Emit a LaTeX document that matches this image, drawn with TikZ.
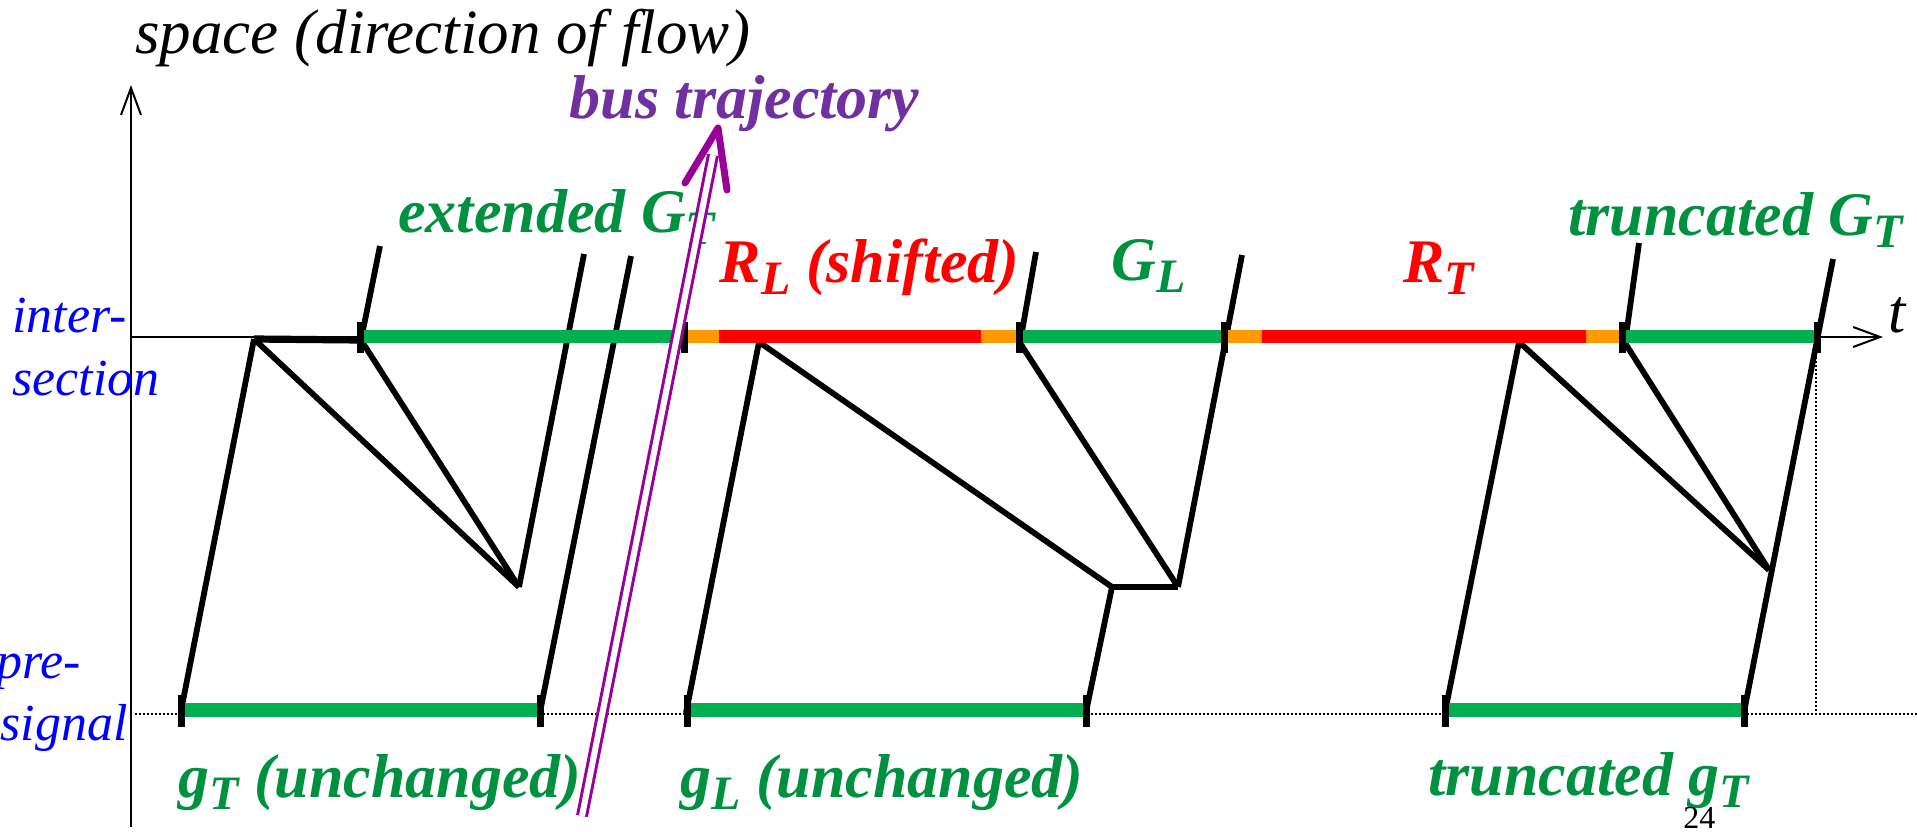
\documentclass[tikz,border=0pt]{standalone}
\usepackage{fontspec}
\setmainfont{Liberation Serif}
\usetikzlibrary{arrows.meta}
\definecolor{bargreen}{RGB}{0,176,80}
\definecolor{txtgreen}{RGB}{0,145,64}
\definecolor{sigorange}{RGB}{255,153,0}
\definecolor{sigred}{RGB}{255,0,0}
\definecolor{buspurple}{RGB}{153,0,153}
\definecolor{txtpurple}{RGB}{112,48,160}
\definecolor{txtblue}{RGB}{0,0,255}
\newcommand{\lsub}[1]{\raisebox{-6pt}{\fontsize{24}{24}\selectfont #1}}
\begin{document}
\begin{tikzpicture}[x=0.5pt,y=-0.5pt,
  lbl/.style={inner sep=0, anchor=base west, font=\fontsize{31}{31}\selectfont\bfseries\itshape},
  sidelbl/.style={inner sep=0, anchor=base west, text=txtblue, font=\fontsize{26}{26}\selectfont\itshape},
  axisline/.style={line width=1pt, -{Straight Barb[length=13.5pt,width=10pt,line width=1pt]}},
  traj/.style={line width=2.9pt, black},
  barline/.style={line width=6.5pt},
  tickmark/.style={line width=3.5pt, black},
  dotline/.style={line width=1pt, dash pattern=on 1pt off 1pt}]
\useasboundingbox (0,0) rectangle (1917,831);

% axes
\coordinate (o0) at (131,827);
\coordinate (oy) at (131,85);
\coordinate (ox0) at (131,337);
\coordinate (ox) at (1883,337);
\draw[axisline] (o0) -- (oy);
\draw[axisline] (ox0) -- (ox);
\coordinate (ps0) at (135,714);
\coordinate (ps1) at (1917,714);
\coordinate (vd0) at (1816,337);
\coordinate (vd1) at (1816,714);
\draw[dotline] (ps0) -- (ps1);
\draw[dotline] (vd0) -- (vd1);

% trajectory points
\coordinate (a1) at (180.6,713);
\coordinate (a2) at (254,339);
\coordinate (c1) at (361,340);
\coordinate (c2) at (380,246);
\coordinate (d1) at (519,587);
\coordinate (f2) at (584,254);
\coordinate (g1) at (540,712);
\coordinate (g2) at (631,256);
\coordinate (h1) at (686,713);
\coordinate (h2) at (759,342);
\coordinate (m2) at (1112,587);
\coordinate (m1) at (1086,712);
\coordinate (j1) at (1020,343);
\coordinate (k2) at (1036,252);
\coordinate (n1) at (1178,587);
\coordinate (n2) at (1242,255);
\coordinate (o1) at (1445,712);
\coordinate (o2) at (1519,342);
\coordinate (p2) at (1769,570);
\coordinate (q1) at (1625,343);
\coordinate (r2) at (1639,243);
\coordinate (s1) at (1744,712);
\coordinate (s2) at (1833,259);

\draw[traj] (a1) -- (a2);
\draw[traj, line width=3.6pt] (a2) -- (c1);
\draw[traj] (c1) -- (c2);
\draw[traj] (a2) -- (d1);
\draw[traj] (c1) -- (d1);
\draw[traj] (d1) -- (f2);
\draw[traj] (g1) -- (g2);
\draw[traj] (h1) -- (h2);
\draw[traj] (h2) -- (m2);
\draw[traj] (m1) -- (m2);
\draw[traj, line width=3.2pt] (m2) -- (n1);
\draw[traj] (j1) -- (n1);
\draw[traj] (j1) -- (k2);
\draw[traj] (n1) -- (n2);
\draw[traj] (o1) -- (o2);
\draw[traj] (o2) -- (p2);
\draw[traj] (q1) -- (p2);
\draw[traj] (q1) -- (r2);
\draw[traj] (s1) -- (s2);

% signal bars at intersection
\draw[barline, bargreen] (358,336.7) -- (680,336.7);
\draw[barline, sigorange] (680,336.7) -- (719,336.7);
\draw[barline, sigred] (719,336.7) -- (981,336.7);
\draw[barline, sigorange] (981,336.7) -- (1020,336.7);
\draw[barline, bargreen] (1020,336.7) -- (1223,336.7);
\draw[barline, sigorange] (1223,336.7) -- (1262,336.7);
\draw[barline, sigred] (1262,336.7) -- (1586,336.7);
\draw[barline, sigorange] (1586,336.7) -- (1625,336.7);
\draw[barline, bargreen] (1625,336.7) -- (1821,336.7);
% pre-signal bars
\draw[barline, bargreen, line width=7pt] (181,710) -- (538,710);
\draw[barline, bargreen, line width=7pt] (689,710) -- (1088,710);
\draw[barline, bargreen, line width=7pt] (1445,710) -- (1746,710);

% ticks
\foreach \tx in {360,684,1019,1224,1622,1817}
  \draw[tickmark] (\tx,322) -- (\tx,353);
\foreach \tx in {181,540,687,1086,1445,1744}
  \draw[tickmark] (\tx,695) -- (\tx,727);

% labels
\node[inner sep=0, anchor=base west, font=\fontsize{31.5}{31.5}\selectfont\itshape] (space) at (135,53) {space (direction of flow)};
\node[lbl, text=txtpurple] (bus) at (569.5,118) {bus trajectory};
\node[lbl, text=txtgreen] (extG) at (398,232) {extended G\lsub{T}};
\node[lbl, text=sigred] (RL) at (719.5,282) {R\lsub{L} (shifted)};
\node[lbl, text=txtgreen] (GL) at (1111,280) {G\lsub{L}};
\node[lbl, text=sigred] (RT) at (1402.6,282) {R\lsub{T}};
\node[lbl, text=txtgreen] (truncG) at (1568,235) {truncated G\lsub{T}};
\node[inner sep=0, anchor=base west, font=\fontsize{31}{31}\selectfont\itshape] (tlab) at (1888,332) {t};
\node[sidelbl] (inter) at (12,332) {inter-};
\node[sidelbl] (section) at (12,395) {section};
\node[sidelbl] (pre) at (-4,678) {pre-};
\node[sidelbl] (signal) at (0,740) {signal};
\node[lbl, text=txtgreen] (gT) at (178,797) {g\lsub{T} (unchanged)};
\node[lbl, text=txtgreen] (gL) at (680,797) {g\lsub{L} (unchanged)};
\node[lbl, text=txtgreen] (truncg) at (1428,795) {truncated g\lsub{T}};
\node[inner sep=0, anchor=base west, font=\fontsize{16}{16}\selectfont] (pg) at (1683,828) {24};

% bus trajectory
\coordinate (bus0) at (582,816);
\coordinate (bus1) at (713,155);
\coordinate (bh1) at (685,183);
\coordinate (bhtip) at (718,128);
\coordinate (bh2) at (727,190);
\draw[buspurple, line width=1.5pt, double=white, double distance=3pt] (bus0) -- (bus1);
\draw[buspurple, line width=3.5pt, line cap=round, line join=round] (bh1) -- (bhtip) -- (bh2);
\end{tikzpicture}
\end{document}
